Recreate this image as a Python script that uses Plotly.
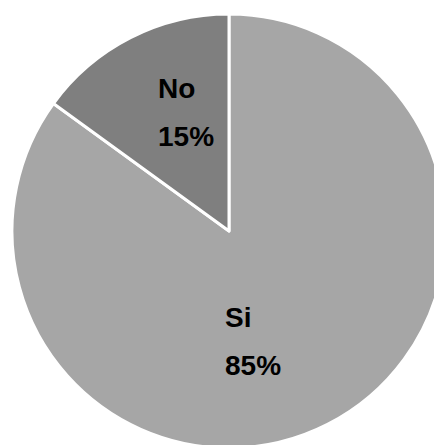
import plotly.graph_objects as go

labels = ["Si", "No"]
values = [85, 15]
colors = ["#a6a6a6", "#7f7f7f"]

# label anchor positions (paper coords, left edge / vertical middle) for each slice's text
label_pos = {"Si": (0.486, 0.305, 0.196), "No": (0.335, 0.820, 0.712)}

total = sum(values)
font = dict(family="Liberation Sans, Arial, sans-serif", size=28, color="black")

fig = go.Figure(go.Pie(
    labels=labels,
    values=values,
    sort=False,
    direction="clockwise",
    rotation=0,
    marker=dict(colors=colors, line=dict(color="white", width=3)),
    textinfo="none",
    domain=dict(x=[0.009, 0.991], y=[0.011, 0.9865]),
    showlegend=False,
    hoverinfo="label+percent",
))

annotations = []
for lab, val in zip(labels, values):
    x, y1, y2 = label_pos[lab]
    annotations.append(dict(x=x, y=y1, xref="paper", yref="paper", text=f"<b>{lab}</b>",
                            showarrow=False, xanchor="left", yanchor="middle", font=font))
    annotations.append(dict(x=x, y=y2, xref="paper", yref="paper",
                            text=f"<b>{round(100 * val / total)}%</b>",
                            showarrow=False, xanchor="left", yanchor="middle", font=font))

fig.update_layout(
    width=442, height=445,
    margin=dict(l=0, r=0, t=0, b=0),
    paper_bgcolor="white",
    plot_bgcolor="white",
    annotations=annotations,
)
fig.write_html("out.html")
